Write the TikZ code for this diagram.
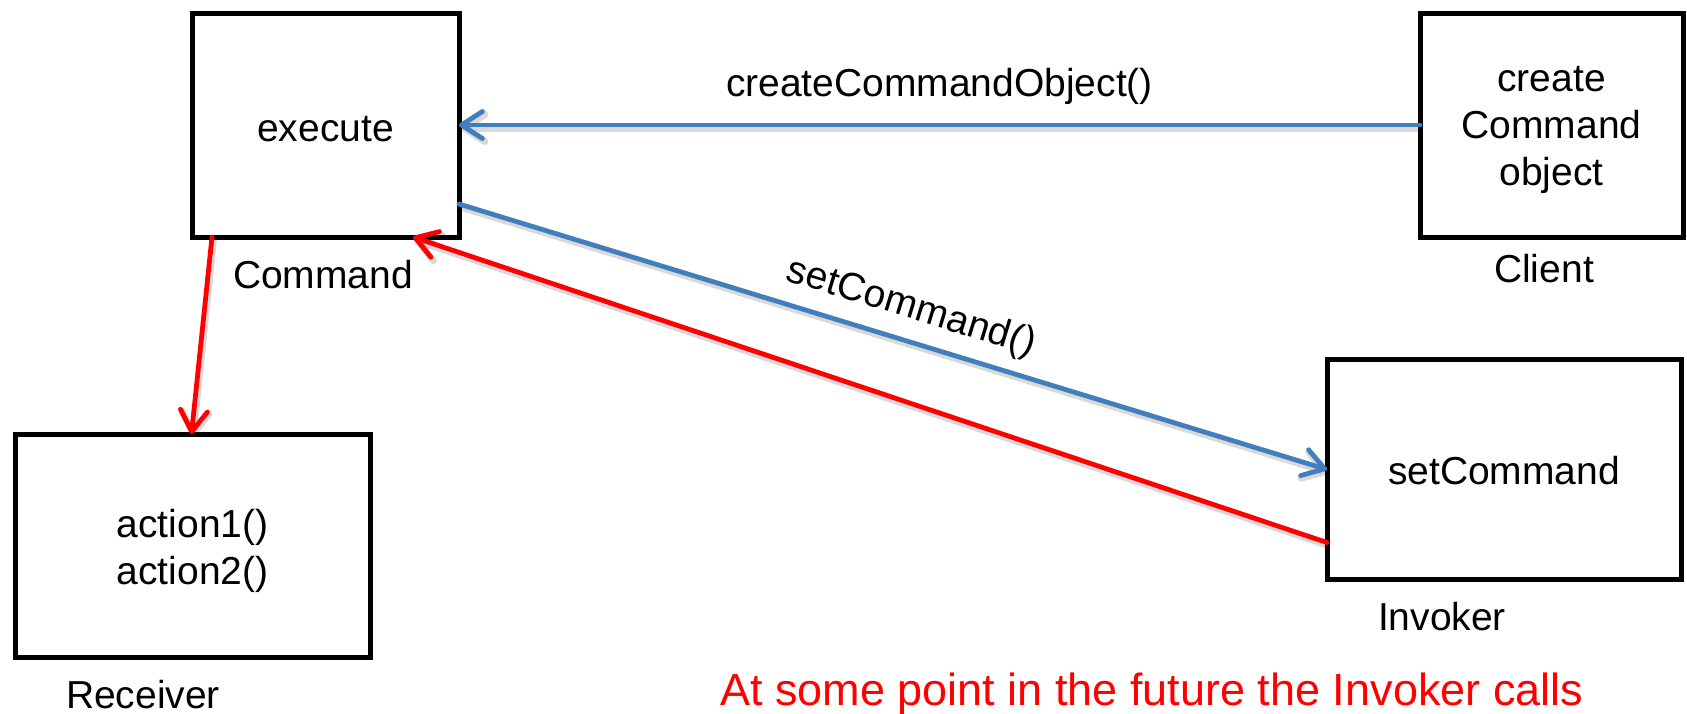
\documentclass[tikz,border=0pt]{standalone}
\usepackage{fontspec}
\setmainfont{Liberation Sans}
\usetikzlibrary{arrows.meta,calc}

\definecolor{linkblue}{RGB}{64,126,190}
\definecolor{callred}{RGB}{255,0,0}

% centred lines of box text, lowered a little inside the box
\newcommand{\boxlines}[2]{\raisebox{-#1}[\height][\depth]{\begin{tabular}{@{}c@{}}#2\end{tabular}}}

\begin{document}
\begin{tikzpicture}[x=1pt,y=-1pt,
  umlbox/.style={draw=black, line width=5pt, rectangle, inner sep=0pt, outer sep=0pt,
                 fill=white, font=\fontsize{39pt}{46.7pt}\selectfont},
  caption/.style={inner sep=0pt, font=\fontsize{39pt}{46.7pt}\selectfont},
  lineshadow/.style={preaction={draw=black, draw opacity=0.15, line width=7pt,
                     transform canvas={xshift=1.5pt,yshift=-3pt}}},
  call/.style={line width=4.8pt, line cap=round, lineshadow,
               -{Straight Barb[length=21pt,width=27pt,round]}},
  bluecall/.style={call, draw=linkblue},
  redcall/.style={call, draw=callred},
  edgelabel/.style={inner sep=0pt, font=\fontsize{39pt}{46.7pt}\selectfont}]

  \useasboundingbox (0,0) rectangle (1687,713);
  \fill[white] (0,0) rectangle (1687,713);

  % participants
  \node[umlbox, minimum width=267pt, minimum height=224pt] (cmd) at (325.5,125)
    {\boxlines{7.6pt}{execute}};
  \node[umlbox, minimum width=263pt, minimum height=224pt] (cli) at (1551.5,125)
    {\boxlines{4pt}{create\\Command\\object}};
  \node[umlbox, minimum width=355pt, minimum height=223pt] (rcv) at (192.5,545.5)
    {\boxlines{6.4pt}{action1()\\action2()}};
  \node[umlbox, minimum width=354pt, minimum height=220pt] (inv) at (1504,469.5)
    {\boxlines{6.1pt}{setCommand}};

  % role names under the boxes
  \node[caption, anchor=base] (cmdname) at (323,288) {Command};
  \node[caption, anchor=base] (cliname) at (1544,282) {Client};
  \node[caption, anchor=base] (rcvname) at (143,708) {Receiver};
  \node[caption, anchor=base] (invname) at (1442,630) {Invoker};

  % messages
  \draw[bluecall] (cli.west) --
    node[edgelabel, above=18pt] (lblcreate) {createCommandObject()} (cmd.east);
  \draw[bluecall] ($(cmd.east)+(0,79)$) --
    node[edgelabel, sloped, above=12pt, pos=0.51] (lblset) {setCommand()} (inv.west);
  \draw[redcall] ($(inv.west)+(0,73)$) -- ($(cmd.south east)+(-46,0)$);
  \draw[redcall] ($(cmd.south west)+(20,0)$) -- ($(rcv.north)+(-1,0)$);

  % note
  \node[inner sep=0pt, anchor=base west, text=callred,
        font=\fontsize{45pt}{54pt}\selectfont] (note) at (720,705)
    {At some point in the future the Invoker calls};
\end{tikzpicture}
\end{document}
